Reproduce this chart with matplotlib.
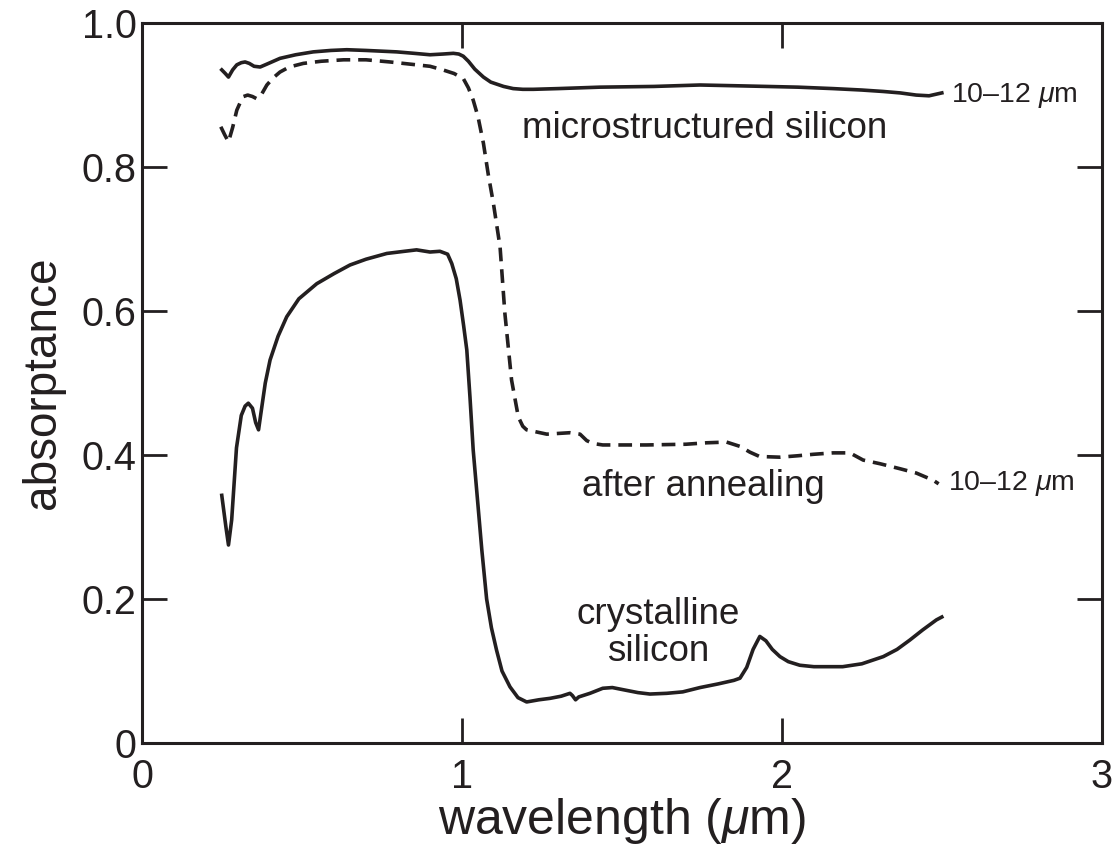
import matplotlib
matplotlib.use('Agg')
import matplotlib.pyplot as plt

plt.rcParams['font.family'] = ['Liberation Sans', 'DejaVu Sans']
plt.rcParams['mathtext.fontset'] = 'custom'
plt.rcParams['mathtext.rm'] = 'Liberation Sans'
plt.rcParams['mathtext.it'] = 'Liberation Sans:italic'

# crystalline silicon
wl_cryst = [0.249, 0.262, 0.27, 0.28, 0.295, 0.31, 0.322, 0.332, 0.345, 0.355, 0.364, 0.372,
            0.385, 0.40, 0.425, 0.452, 0.49, 0.546, 0.60, 0.65, 0.70, 0.765, 0.82, 0.858,
            0.90, 0.931, 0.955, 0.968, 0.982, 0.994, 1.005, 1.015, 1.025, 1.035, 1.05, 1.062,
            1.077, 1.092, 1.108, 1.125, 1.15, 1.175, 1.202, 1.24, 1.275, 1.31, 1.3375, 1.345,
            1.355, 1.365, 1.40, 1.44, 1.47, 1.504, 1.55, 1.5875, 1.64, 1.69, 1.744, 1.80,
            1.85, 1.869, 1.89, 1.91, 1.931, 1.95, 1.97, 1.994, 2.02, 2.056, 2.10, 2.15,
            2.19, 2.25, 2.317, 2.36, 2.40, 2.44, 2.483, 2.50]
ab_cryst = [0.344, 0.30, 0.275, 0.31, 0.41, 0.455, 0.468, 0.472, 0.465, 0.445, 0.435, 0.46,
            0.50, 0.532, 0.565, 0.592, 0.617, 0.638, 0.652, 0.664, 0.672, 0.68, 0.683, 0.685,
            0.682, 0.683, 0.679, 0.666, 0.645, 0.615, 0.58, 0.546, 0.48, 0.407, 0.33, 0.268,
            0.20, 0.16, 0.129, 0.10, 0.078, 0.063, 0.057, 0.06, 0.062, 0.065, 0.069, 0.066,
            0.06, 0.064, 0.069, 0.076, 0.077, 0.074, 0.07, 0.068, 0.069, 0.071, 0.077, 0.082,
            0.087, 0.09, 0.105, 0.13, 0.148, 0.142, 0.13, 0.12, 0.113, 0.108, 0.106, 0.106,
            0.106, 0.11, 0.12, 0.13, 0.143, 0.157, 0.171, 0.175]

# microstructured silicon
wl_micro = [0.249, 0.26, 0.27, 0.283, 0.296, 0.31, 0.322, 0.335, 0.35, 0.369, 0.39, 0.431,
            0.48, 0.535, 0.59, 0.64, 0.70, 0.796, 0.85, 0.90, 0.94, 0.973, 0.99, 1.004,
            1.02, 1.04, 1.067, 1.09, 1.13, 1.16, 1.19, 1.223, 1.30, 1.431, 1.60, 1.744,
            1.85, 1.952, 2.05, 2.16, 2.25, 2.317, 2.37, 2.42, 2.46, 2.49, 2.50]
ab_micro = [0.935, 0.93, 0.925, 0.935, 0.942, 0.945, 0.946, 0.944, 0.94, 0.939, 0.943, 0.951,
            0.956, 0.96, 0.962, 0.963, 0.962, 0.96, 0.958, 0.956, 0.957, 0.958, 0.957, 0.954,
            0.947, 0.936, 0.925, 0.918, 0.912, 0.909, 0.908, 0.908, 0.909, 0.911, 0.912, 0.914,
            0.913, 0.912, 0.911, 0.909, 0.907, 0.905, 0.903, 0.90, 0.899, 0.902, 0.903]

# after annealing
wl_anneal = [0.246, 0.258, 0.27, 0.283, 0.296, 0.307, 0.317, 0.33, 0.345, 0.358, 0.372, 0.39,
             0.41, 0.431, 0.46, 0.504, 0.56, 0.63, 0.70, 0.775, 0.858, 0.90, 0.94, 0.975,
             1.004, 1.02, 1.035, 1.05, 1.067, 1.082, 1.098, 1.119, 1.134, 1.155, 1.176, 1.19,
             1.202, 1.265, 1.3375, 1.369, 1.39, 1.41, 1.44, 1.577, 1.70, 1.765, 1.827, 1.869,
             1.90, 1.93, 1.994, 2.05, 2.098, 2.16, 2.2125, 2.254, 2.306, 2.369, 2.42, 2.473, 2.49]
ab_anneal = [0.856, 0.845, 0.835, 0.855, 0.879, 0.89, 0.898, 0.90, 0.898, 0.895, 0.90, 0.914,
             0.924, 0.932, 0.939, 0.944, 0.947, 0.949, 0.949, 0.946, 0.942, 0.94, 0.935, 0.93,
             0.923, 0.91, 0.893, 0.87, 0.833, 0.79, 0.75, 0.689, 0.597, 0.504, 0.453, 0.44,
             0.435, 0.429, 0.431, 0.429, 0.42, 0.416, 0.414, 0.414, 0.415, 0.417, 0.418, 0.412,
             0.404, 0.398, 0.397, 0.399, 0.401, 0.403, 0.403, 0.393, 0.388, 0.381, 0.375, 0.365, 0.36]

x_ticks = [0, 1, 2, 3]
y_ticks = [0, 0.2, 0.4, 0.6, 0.8, 1.0]
y_ticklabels = ['0', '0.2', '0.4', '0.6', '0.8', '1.0']

fig = plt.figure(figsize=(11.19, 8.55), dpi=100)
ax = fig.add_axes([0.127, 0.131, 0.8576, 0.842])

ink = '#231f20'
ax.plot(wl_cryst, ab_cryst, color=ink, lw=2.6, solid_joinstyle='round')
ax.plot(wl_micro, ab_micro, color=ink, lw=2.6, solid_joinstyle='round')
ax.plot(wl_anneal, ab_anneal, color=ink, lw=2.6, linestyle=(0, (3.8, 2.2)))

ax.set_xlim(0, 3)
ax.set_ylim(0, 1)
ax.set_xticks(x_ticks)
ax.set_xticklabels([str(t) for t in x_ticks])
ax.set_yticks(y_ticks)
ax.set_yticklabels(y_ticklabels)
ax.tick_params(direction='in', length=18, width=2, colors=ink, labelsize=28.5,
               top=True, right=True)
ax.tick_params(axis='x', pad=11)
ax.tick_params(axis='y', pad=4)
for s in ax.spines.values():
    s.set_linewidth(2.2)
    s.set_color(ink)

ax.set_xlabel(r'wavelength ($\mu$m)', fontsize=36, color=ink, labelpad=0)
ax.set_ylabel('absorptance', fontsize=33, color=ink, labelpad=12)

ax.text(1.1875, 0.854, 'microstructured silicon', fontsize=26.5, color=ink,
        ha='left', va='center')
ax.text(1.375, 0.356, 'after annealing', fontsize=26.5, color=ink,
        ha='left', va='center')
ax.text(1.6125, 0.153, 'crystalline\nsilicon', fontsize=26.5, color=ink,
        ha='center', va='center', linespacing=1.05)
ax.text(2.53, 0.90, r'10–12 $\mu$m', fontsize=20.5, color=ink, ha='left', va='center')
ax.text(2.52, 0.361, r'10–12 $\mu$m', fontsize=20.5, color=ink, ha='left', va='center')

fig.savefig('out.png', dpi=100)
